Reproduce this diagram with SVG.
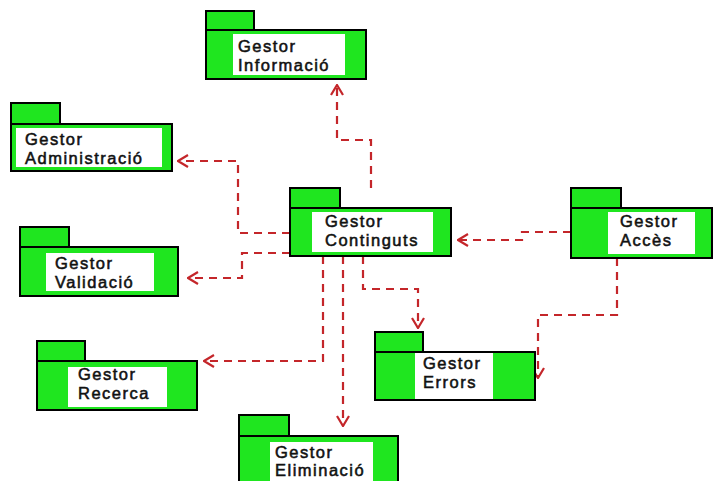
<svg xmlns="http://www.w3.org/2000/svg" width="721" height="481" viewBox="0 0 721 481">
  <style>
    .tab, .body { fill: #1fe61f; stroke: #000; stroke-width: 2; }
    .label { fill: #fff; stroke: none; }
    text { font-family: "Liberation Sans", Arial, sans-serif; font-size: 16.5px; letter-spacing: 1.5px; fill: #111; stroke: #111; stroke-width: 0.55; }
    .dep { fill: none; stroke: #c4262a; stroke-width: 2.2; stroke-dasharray: 8 6; marker-end: url(#open); }
  </style>
  <defs>
    <marker id="open" viewBox="0 0 12 14" refX="11" refY="7" markerWidth="12" markerHeight="14" markerUnits="userSpaceOnUse" orient="auto">
      <path d="M1,1 L11,7 L1,13" fill="none" stroke="#c4262a" stroke-width="2.2"/>
    </marker>
  </defs>
  <rect width="721" height="481" fill="#fff"/>

  <g id="connectors">
    <path class="dep" d="M371,188 V140 H337 V85"/>
    <path class="dep" d="M290,233 H238 V161 H178"/>
    <path class="dep" d="M290,253 H242 V278 H188"/>
    <path class="dep" d="M323,256 V361 H204"/>
    <path class="dep" d="M343,256 V426"/>
    <path class="dep" d="M363,256 V289 H418 V328"/>
    <path class="dep" d="M571,232 H522 V240 H458"/>
    <path class="dep" d="M617,258 V315 H538 V378"/>
  </g>

  <g id="gestor-informacio">
    <rect class="tab" x="206" y="11" width="48" height="19"/>
    <rect class="body" x="206" y="30" width="160" height="49"/>
    <rect class="label" x="233" y="34" width="112" height="41"/>
    <text x="238" y="52">Gestor</text>
    <text x="238" y="71">Informació</text>
  </g>

  <g id="gestor-administracio">
    <rect class="tab" x="11" y="103" width="49" height="21"/>
    <rect class="body" x="11" y="124" width="161" height="47"/>
    <rect class="label" x="16" y="128" width="146" height="39"/>
    <text x="25" y="145">Gestor</text>
    <text x="25" y="164">Administració</text>
  </g>

  <g id="gestor-validacio">
    <rect class="tab" x="20" y="227" width="49" height="20"/>
    <rect class="body" x="20" y="247" width="158" height="49"/>
    <rect class="label" x="46" y="253" width="108" height="38"/>
    <text x="55" y="269">Gestor</text>
    <text x="55" y="288">Validació</text>
  </g>

  <g id="gestor-continguts">
    <rect class="tab" x="290" y="188" width="50" height="20"/>
    <rect class="body" x="290" y="208" width="161" height="48"/>
    <rect class="label" x="312" y="212" width="121" height="40"/>
    <text x="325" y="227">Gestor</text>
    <text x="325" y="246">Continguts</text>
  </g>

  <g id="gestor-acces">
    <rect class="tab" x="571" y="188" width="50" height="20"/>
    <rect class="body" x="571" y="208" width="141" height="50"/>
    <rect class="label" x="608" y="212" width="87" height="42"/>
    <text x="620" y="227">Gestor</text>
    <text x="620" y="246">Accès</text>
  </g>

  <g id="gestor-errors">
    <rect class="tab" x="375" y="332" width="48" height="20"/>
    <rect class="body" x="375" y="352" width="160" height="48"/>
    <rect class="label" x="415" y="353" width="78" height="46"/>
    <text x="423" y="369">Gestor</text>
    <text x="423" y="388">Errors</text>
  </g>

  <g id="gestor-recerca">
    <rect class="tab" x="37" y="341" width="48" height="20"/>
    <rect class="body" x="37" y="361" width="160" height="49"/>
    <rect class="label" x="68" y="367" width="99" height="40"/>
    <text x="78" y="380">Gestor</text>
    <text x="78" y="399">Recerca</text>
  </g>

  <g id="gestor-eliminacio">
    <rect class="tab" x="239" y="415" width="50" height="21"/>
    <rect class="body" x="239" y="436" width="159" height="50"/>
    <rect class="label" x="270" y="442" width="103" height="40"/>
    <text x="275" y="458">Gestor</text>
    <text x="275" y="476">Eliminació</text>
  </g>
</svg>
